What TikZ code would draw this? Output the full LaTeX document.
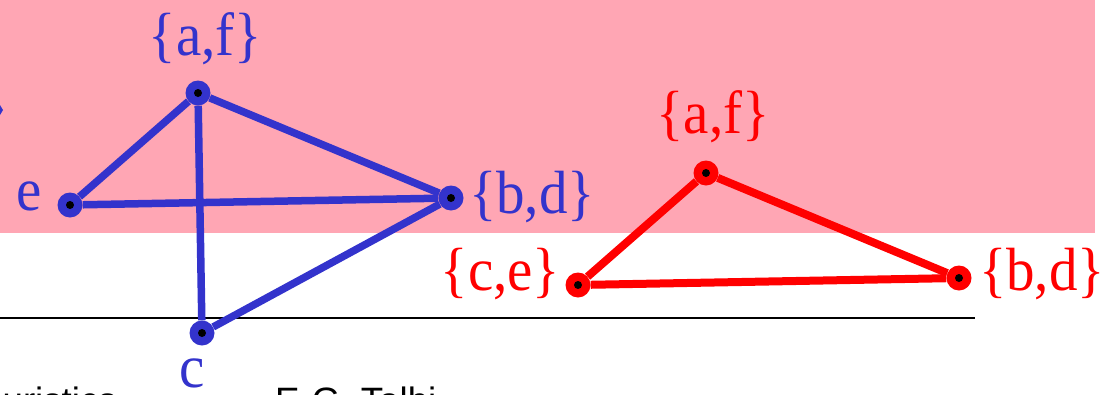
\documentclass[tikz,border=0pt]{standalone}
\usepackage{fontspec}
\setmainfont{Liberation Serif}
\newfontfamily\arialfont{Liberation Sans}
\definecolor{pinkbg}{RGB}{255,166,180}
\definecolor{gblue}{RGB}{51,51,204}
\definecolor{gred}{RGB}{255,0,0}
\newcommand{\tallab}[1]{\scalebox{1}[1.07]{#1}}
\tikzset{
  bvert/.style={circle, fill=gblue, minimum size=25pt, inner sep=0pt,
    path picture={\fill[black] (path picture bounding box.center) circle (4pt);}},
  rvert/.style={circle, fill=gred, minimum size=25pt, inner sep=0pt,
    path picture={\fill[black] (path picture bounding box.center) circle (4pt);}},
  bedge/.style={draw=gblue, line width=7.5pt},
  redge/.style={draw=gred, line width=8pt},
  blab/.style={text=gblue, font=\fontsize{57}{60}\selectfont, inner sep=0pt, anchor=base},
  rlab/.style={text=gred, font=\fontsize{57}{60}\selectfont, inner sep=0pt, anchor=base},
  foot/.style={text=black, font=\arialfont\fontsize{36.7}{40}\selectfont, inner sep=0pt}
}
\begin{document}
\begin{tikzpicture}[x=1pt,y=-1pt]
\useasboundingbox (0,0) rectangle (1112,394);
\clip (0,0) rectangle (1112,394);
\fill[pinkbg] (0,0) rectangle (1095,233);
\fill[gblue] (0,105) -- (3,110) -- (0,115) -- cycle;
\draw[black, line width=2pt] (0,318) coordinate (rl) -- (975,318) coordinate (rr);
% blue graph
\node[bvert] (baf) at (198,93) {};
\node[bvert] (be) at (70,205) {};
\node[bvert] (bbd) at (451,198) {};
\node[bvert] (bc) at (202,333) {};
\path[bedge] (baf) -- (be);
\path[bedge] (baf) -- (bbd);
\path[bedge] (baf) -- (bc);
\path[bedge] (be) -- (bbd);
\path[bedge] (bbd) -- (bc);
\node[blab] (lbaf) at (205.5,55) {\tallab{\{a,f\}}};
\node[blab] (lbe) at (29,210) {\tallab{e}};
\node[blab] (lbbd) at (532,213) {\tallab{\{b,d\}}};
\node[blab] (lbc) at (192,387) {\tallab{c}};
% red graph
\node[rvert] (raf) at (706,173) {};
\node[rvert] (rce) at (578,285) {};
\node[rvert] (rbd) at (959,278) {};
\path[redge] (raf) -- (rce);
\path[redge] (raf) -- (rbd);
\path[redge] (rce) -- (rbd);
\node[rlab] (lraf) at (713,133) {\tallab{\{a,f\}}};
\node[rlab] (lrce) at (500.5,290) {\tallab{\{c,e\}}};
\node[rlab] (lrbd) at (1042,290) {\tallab{\{b,d\}}};
% footer
\node[foot, anchor=base east] (f1) at (117,413) {euristics};
\node[foot, anchor=base west] (f2) at (275,413) {E-G. Talbi};
\end{tikzpicture}
\end{document}
